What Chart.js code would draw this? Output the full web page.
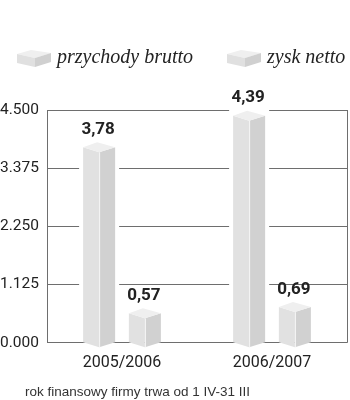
<!DOCTYPE html>
<html>
<head>
<meta charset="utf-8">
<script src="https://cdn.jsdelivr.net/npm/chart.js@4/dist/chart.umd.min.js"></script>
<style>
  html, body { margin: 0; padding: 0; background: #fff; }
  #wrap { width: 350px; height: 400px; position: relative; }
</style>
</head>
<body>
<div id="wrap"><canvas id="chart"></canvas></div>
<script>
const categories = ["2005/2006", "2006/2007"];
const seriesNames = ["przychody brutto", "zysk netto"];
const przychody = [3.78, 4.39];
const zysk = [0.57, 0.69];
const yTickLabels = ["0.000", "1.125", "2.250", "3.375", "4.500"];
const footnote = "rok finansowy firmy trwa od 1 IV-31 III";

// little flat box used as legend marker
function makeIcon() {
	const c = document.createElement("canvas");
	c.width = 34;
	c.height = 20;
	const g = c.getContext("2d");
	g.fillStyle = "#efefef";
	g.beginPath();
	g.moveTo(0, 6); g.lineTo(14, 2); g.lineTo(34, 5); g.lineTo(18, 10);
	g.closePath(); g.fill();
	g.fillStyle = "#e0e0e0";
	g.beginPath();
	g.moveTo(0, 6); g.lineTo(18, 10); g.lineTo(18, 19); g.lineTo(0, 15);
	g.closePath(); g.fill();
	g.fillStyle = "#d0d0d0";
	g.beginPath();
	g.moveTo(18, 10); g.lineTo(34, 5); g.lineTo(34, 14); g.lineTo(18, 19);
	g.closePath(); g.fill();
	return c;
}
const icon = makeIcon();

const fmt = (v) => v.toFixed(2).replace(".", ",");

// draws each bar as a lit box, using the bar elements laid out by the chart
const pillars = {
	id: "pillars",
	beforeDatasetsDraw(chart) {
		const { ctx, chartArea } = chart;
		ctx.save();
		ctx.strokeStyle = "#6e6e6e";
		ctx.lineWidth = 1;
		ctx.beginPath();
		ctx.moveTo(chartArea.right + 0.5, chartArea.top);
		ctx.lineTo(chartArea.right + 0.5, chartArea.bottom);
		ctx.stroke();
		ctx.restore();
	},
	afterDatasetsDraw(chart) {
		const ctx = chart.ctx;
		chart.data.datasets.forEach((ds, di) => {
			const meta = chart.getDatasetMeta(di);
			meta.data.forEach((bar, i) => {
				const w = bar.width;
				const l = bar.x - w / 2, r = bar.x + w / 2, m = bar.x;
				const top = bar.y, base = bar.base, d = 5;
				ctx.save();
				ctx.fillStyle = "#fff";
				ctx.fillRect(l - 4, top - d - 2, w + 8, base - top + d + 1);
				ctx.fillStyle = "#e1e1e1";
				ctx.beginPath();
				ctx.moveTo(l, top); ctx.lineTo(m, top + d); ctx.lineTo(m, base + d); ctx.lineTo(l, base);
				ctx.closePath(); ctx.fill();
				ctx.fillStyle = "#d1d1d1";
				ctx.beginPath();
				ctx.moveTo(m, top + d); ctx.lineTo(r, top); ctx.lineTo(r, base); ctx.lineTo(m, base + d);
				ctx.closePath(); ctx.fill();
				ctx.fillStyle = "#efefef";
				ctx.beginPath();
				ctx.moveTo(l, top); ctx.lineTo(m - 2, top - d); ctx.lineTo(r, top); ctx.lineTo(m, top + d);
				ctx.closePath(); ctx.fill();
				ctx.strokeStyle = "#f7f7f7";
				ctx.lineWidth = 1;
				ctx.beginPath();
				ctx.moveTo(m + 0.5, top + d); ctx.lineTo(m + 0.5, base + d);
				ctx.stroke();
				ctx.fillStyle = "#222";
				ctx.font = "bold 17px Roboto";
				ctx.textAlign = "center";
				ctx.textBaseline = "bottom";
				ctx.fillText(fmt(ds.data[i]), m - 1, top - 9);
				ctx.restore();
			});
		});
	},
	afterDraw(chart) {
		const ctx = chart.ctx;
		ctx.save();
		const legendX = [17, 227];
		ctx.font = "italic 20px 'Liberation Serif'";
		ctx.fillStyle = "#222";
		ctx.textBaseline = "middle";
		seriesNames.forEach((name, i) => {
			ctx.drawImage(icon, legendX[i], 48);
			ctx.fillText(name, legendX[i] + 40, 58);
		});
		ctx.fillStyle = "#333";
		ctx.font = "13.5px 'Liberation Sans'";
		ctx.fillText(footnote, 25, 392);
		ctx.restore();
	}
};

new Chart(document.getElementById("chart"), {
	type: "bar",
	data: {
		labels: categories,
		datasets: [
			{ label: seriesNames[0], data: przychody, backgroundColor: "rgba(0,0,0,0)" },
			{ label: seriesNames[1], data: zysk, backgroundColor: "rgba(0,0,0,0)" },
		],
	},
	options: {
		responsive: true,
		maintainAspectRatio: false,
		animation: false,
		categoryPercentage: 0.61,
		barPercentage: 0.7,
		layout: { padding: { top: 110, right: 3, bottom: 24, left: 0 } },
		plugins: {
			legend: { display: false },
			tooltip: { enabled: false },
		},
		scales: {
			x: {
				grid: { display: false },
				border: { display: false },
				ticks: { color: "#222", font: { family: "Roboto", size: 16 }, padding: 3 },
			},
			y: {
				min: 0,
				max: 4.5,
				afterFit: (scale) => { scale.width = 47; },
				grid: { color: "#6e6e6e", drawTicks: false },
				border: { color: "#6e6e6e" },
				ticks: {
					stepSize: 1.125,
					padding: 8,
					color: "#222",
					font: { family: "Roboto", size: 15.5 },
					callback: (v, idx) => yTickLabels[idx],
				},
			},
		},
	},
	plugins: [pillars],
});
</script>
</body>
</html>
